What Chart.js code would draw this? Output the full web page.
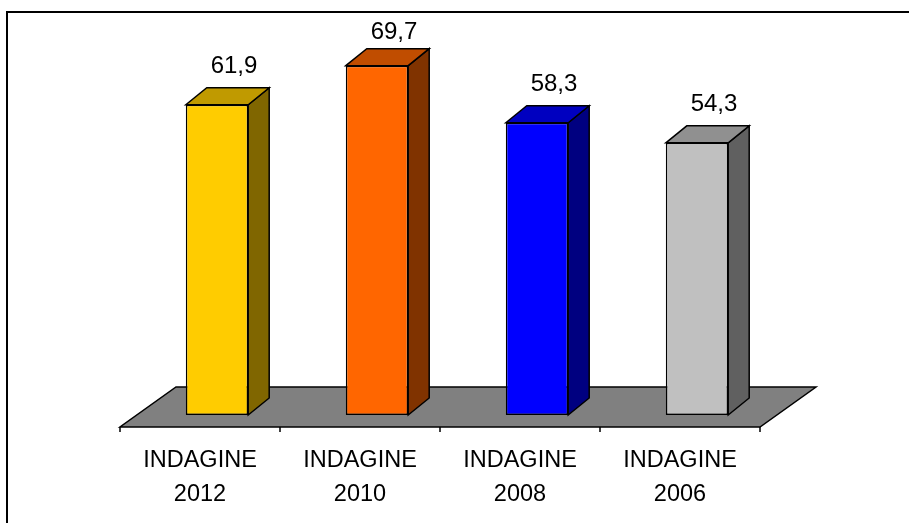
<!DOCTYPE html>
<html>
<head>
<meta charset="utf-8">
<script src="https://cdn.jsdelivr.net/npm/chart.js@4/dist/chart.umd.min.js"></script>
<style>
  body { margin: 0; background: #fff; }
</style>
</head>
<body>
<canvas id="myChart" width="909" height="523"></canvas>
<script>
// survey data
const surveys = [["INDAGINE", "2012"], ["INDAGINE", "2010"], ["INDAGINE", "2008"], ["INDAGINE", "2006"]];
const values = [61.9, 69.7, 58.3, 54.3];

// face colours per bar: front, top, side
const frontColors = ["#ffcc00", "#ff6600", "#0000ff", "#c0c0c0"];
const topColors = ["#c09a00", "#c04d00", "#0000c0", "#909090"];
const sideColors = ["#806600", "#803300", "#000080", "#606060"];

const FONT = "Arial, 'Liberation Sans', sans-serif";

// fake 3d: floor depth and bar depth offsets
const FLOOR_DX = 56, FLOOR_DY = 40;
const BAR_FRONT_DX = 17, BAR_FRONT_DY = 12;
const BAR_DX = 21, BAR_DY = 17;

let poly = (ctx, pts, fill) => {
    ctx.beginPath();
    ctx.moveTo(pts[0][0], pts[0][1]);
    for (let i = 1; i < pts.length; i++) ctx.lineTo(pts[i][0], pts[i][1]);
    ctx.closePath();
    ctx.fillStyle = fill;
    ctx.fill();
    ctx.stroke();
};

const frame3d = {
    id: "frame3d",
    beforeDraw(chart) {
        const ctx = chart.ctx;
        ctx.save();
        ctx.fillStyle = "#fff";
        ctx.fillRect(0, 0, chart.width, chart.height);
        ctx.lineWidth = 2;
        ctx.strokeStyle = "#000";
        ctx.strokeRect(7, 12, chart.width + 20, chart.height + 20);
        ctx.restore();
    },
    beforeDatasetsDraw(chart) {
        const ctx = chart.ctx;
        const x = chart.scales.x, y = chart.scales.y;
        const frontY = y.getPixelForValue(0) + BAR_FRONT_DY;
        const left = x.left - BAR_FRONT_DX, right = x.right - BAR_FRONT_DX;
        ctx.save();
        ctx.strokeStyle = "#000";
        ctx.lineWidth = 1.5;
        ctx.lineJoin = "miter";
        poly(ctx, [
            [left, frontY],
            [right, frontY],
            [right + FLOOR_DX, frontY - FLOOR_DY],
            [left + FLOOR_DX, frontY - FLOOR_DY],
        ], "#808080");
        // tick marks between categories
        const step = x.width / surveys.length;
        ctx.beginPath();
        for (let i = 0; i <= surveys.length; i++) {
            const tx = left + i * step;
            ctx.moveTo(tx, frontY);
            ctx.lineTo(tx, frontY + 5);
        }
        ctx.stroke();
        ctx.restore();
    },
    afterDatasetsDraw(chart) {
        const ctx = chart.ctx;
        const meta = chart.getDatasetMeta(0);
        ctx.save();
        ctx.strokeStyle = "#000";
        ctx.lineWidth = 1.5;
        meta.data.forEach((bar, i) => {
            const l = bar.x - bar.width / 2, r = bar.x + bar.width / 2;
            poly(ctx, [[r, bar.y], [r + BAR_DX, bar.y - BAR_DY], [r + BAR_DX, bar.base - BAR_DY], [r, bar.base]], sideColors[i]);
            poly(ctx, [[l, bar.y], [l + BAR_DX, bar.y - BAR_DY], [r + BAR_DX, bar.y - BAR_DY], [r, bar.y]], topColors[i]);
            // value label above the bar top
            const ly = Math.max(bar.y - BAR_DY - 21, 32);
            ctx.fillStyle = "#000";
            ctx.font = "24px " + FONT;
            ctx.textAlign = "center";
            ctx.textBaseline = "middle";
            ctx.fillText(values[i].toFixed(1).replace(".", ","), bar.x + 17, ly);
        });
        ctx.restore();
    },
};

let ctx = document.getElementById("myChart").getContext("2d");
let myChart = new Chart(ctx, {
    type: "bar",
    data: {
        labels: surveys,
        datasets: [
            {
                data: values,
                backgroundColor: frontColors,
                borderColor: "#000",
                borderWidth: 1.5,
                borderSkipped: false,
                categoryPercentage: 1,
                barPercentage: 0.39,
            },
        ],
    },
    options: {
        responsive: false,
        animation: false,
        layout: {
            padding: { left: 137, right: 132, top: 14, bottom: 8 },
        },
        plugins: {
            legend: { display: false },
            tooltip: { enabled: false },
        },
        scales: {
            x: {
                grid: { display: false },
                border: { display: false },
                ticks: {
                    color: "#000",
                    font: { size: 23.5, family: FONT, lineHeight: 1.45 },
                    padding: 20,
                    labelOffset: -BAR_FRONT_DX,
                    maxRotation: 0,
                    autoSkip: false,
                },
                afterFit(scale) {
                    scale.height = 100;
                },
            },
            y: {
                display: false,
                min: 0,
                max: 80,
            },
        },
    },
    plugins: [frame3d],
});
</script>
</body>
</html>
